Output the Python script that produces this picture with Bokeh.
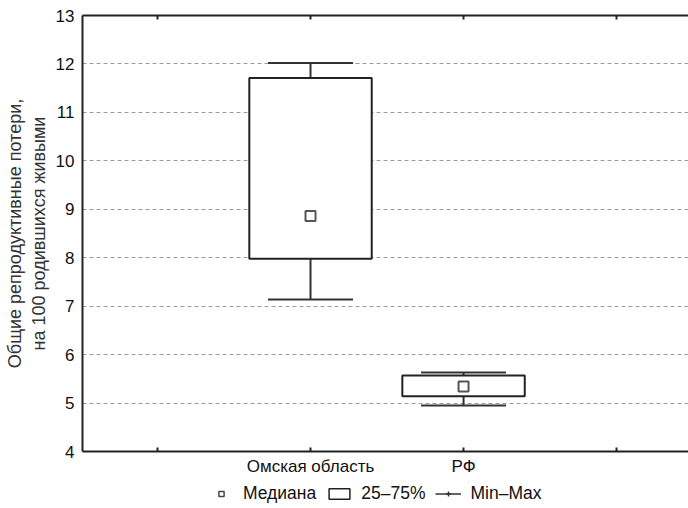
from bokeh.plotting import figure
from bokeh.layouts import column
from bokeh.models import (LinearAxis, FixedTicker, Legend, LegendItem, ColumnDataSource, Range1d)
from bokeh.embed import file_html
from bokeh.resources import INLINE

# ---- data ----
categories = ["Омская область", "РФ"]
minimum = [7.14, 4.95]
q1 = [7.98, 5.14]
median = [8.86, 5.34]
q3 = [11.71, 5.57]
maximum = [12.02, 5.63]
y_ticks = [4, 5, 6, 7, 8, 9, 10, 11, 12, 13]
legend_labels = ["Медиана", "25–75%", "Min–Max"]

positions = [i + 2 for i in range(len(categories))]
FONT = "Liberation Sans"

src = ColumnDataSource(dict(x=positions, mn=minimum, q1=q1, med=median, q3=q3, mx=maximum))

p = figure(width=688, height=478, output_backend="svg", toolbar_location=None,
           x_range=Range1d(0.51, 4.47), y_range=Range1d(4, 13),
           x_axis_location=None, y_axis_location=None,
           min_border_left=82, min_border_right=0, min_border_top=15, min_border_bottom=25)
p.outline_line_color = None
p.background_fill_color = "white"
p.xgrid.visible = False
p.ygrid.ticker = FixedTicker(ticks=y_ticks)
p.ygrid.grid_line_color = "#9a9a9a"
p.ygrid.grid_line_dash = "4 3"
p.ygrid.grid_line_width = 1

# axes
yax = LinearAxis(ticker=FixedTicker(ticks=y_ticks),
                 axis_label="Общие репродуктивные потери,\nна 100 родившихся живыми")
yax.axis_line_color = "#222222"
yax.axis_line_width = 2
yax.major_tick_out = 0
yax.major_tick_in = 0
yax.minor_tick_out = 0
yax.minor_tick_in = 0
yax.major_label_standoff = 8
yax.major_label_text_font = FONT
yax.major_label_text_font_size = "17px"
yax.major_label_text_color = "#111111"
yax.axis_label_text_font = FONT
yax.axis_label_text_font_size = "18px"
yax.axis_label_text_font_style = "normal"
yax.axis_label_text_color = "#333333"
yax.axis_label_standoff = 4
p.add_layout(yax, "left")

x_ticks = [1, 2, 3, 4]
xax = LinearAxis(ticker=FixedTicker(ticks=x_ticks))
overrides = {1: ""}
for pos, c in zip(positions, categories):
    overrides[pos] = c
overrides[4] = ""
xax.major_label_overrides = overrides
xax.axis_line_color = "#222222"
xax.axis_line_width = 2
xax.major_tick_out = 0
xax.major_tick_in = 4
xax.major_tick_line_color = "#222222"
xax.major_tick_line_width = 2
xax.minor_tick_out = 0
xax.minor_tick_in = 0
xax.major_label_standoff = 5
xax.major_label_text_font = FONT
xax.major_label_text_font_size = "17px"
xax.major_label_text_color = "#111111"
p.add_layout(xax, "below")

tax = LinearAxis(ticker=FixedTicker(ticks=x_ticks))
tax.axis_line_color = "#222222"
tax.axis_line_width = 2
tax.major_tick_out = 0
tax.major_tick_in = 4
tax.major_tick_line_color = "#222222"
tax.major_tick_line_width = 2
tax.minor_tick_out = 0
tax.minor_tick_in = 0
tax.major_label_text_alpha = 0
tax.major_label_text_font_size = "1px"
tax.major_label_standoff = 0
p.add_layout(tax, "above")

# whiskers
p.segment(x0="x", y0="q3", x1="x", y1="mx", source=src, line_color="#333333", line_width=2)
p.segment(x0="x", y0="q1", x1="x", y1="mn", source=src, line_color="#333333", line_width=2)
p.scatter(x="x", y="mx", source=src, marker="dash", size=85, line_color="#333333", line_width=2)
p.scatter(x="x", y="mn", source=src, marker="dash", size=85, line_color="#333333", line_width=2)

# boxes
p.vbar(x="x", bottom="q1", top="q3", width=0.8, source=src,
       fill_color="white", line_color="#222222", line_width=2)

# median
p.scatter(x="x", y="med", source=src, marker="square", size=10,
          fill_color="white", line_color="#555555", line_width=2)

# ---- legend strip (separate small figure under the chart) ----
lg = figure(width=688, height=30, output_backend="svg", toolbar_location=None,
            x_range=Range1d(0, 1), y_range=Range1d(0, 1),
            min_border_left=0, min_border_right=0, min_border_top=0, min_border_bottom=0)
lg.axis.visible = False
lg.grid.visible = False
lg.outline_line_color = None

# hidden renderers (same data) used only to draw the legend icons
leg_med = lg.scatter(x="x", y="med", source=src, marker="square", fill_color="white",
                     line_color="#444444", line_width=1.5, visible=False)
leg_box = lg.quad(left="x", right="x", bottom="q1", top="q3", source=src, fill_color="white",
                  line_color="#222222", line_width=1.5, visible=False)
leg_h = lg.segment(x0="x", y0="mn", x1="x", y1="mx", source=src,
                   line_color="#333333", line_width=1.5, visible=False)
leg_v = lg.scatter(x="x", y="mx", source=src, marker="cross",
                   line_color="#333333", line_width=1.5, visible=False)

legend = Legend(items=[LegendItem(label=legend_labels[0], renderers=[leg_med], index=0),
                       LegendItem(label=legend_labels[1], renderers=[leg_box], index=0),
                       LegendItem(label=legend_labels[2], renderers=[leg_h, leg_v], index=0)],
                orientation="horizontal", location=(126, 4),
                border_line_color=None, background_fill_alpha=0, inactive_fill_alpha=0,
                label_text_font=FONT, label_text_font_size="17.5px", label_text_color="#111111",
                glyph_width=26, glyph_height=13, label_standoff=9, spacing=10,
                padding=1, margin=0)
lg.add_layout(legend)

layout = column(p, lg, spacing=0)
open("out.html", "w").write(file_html(layout, INLINE))
